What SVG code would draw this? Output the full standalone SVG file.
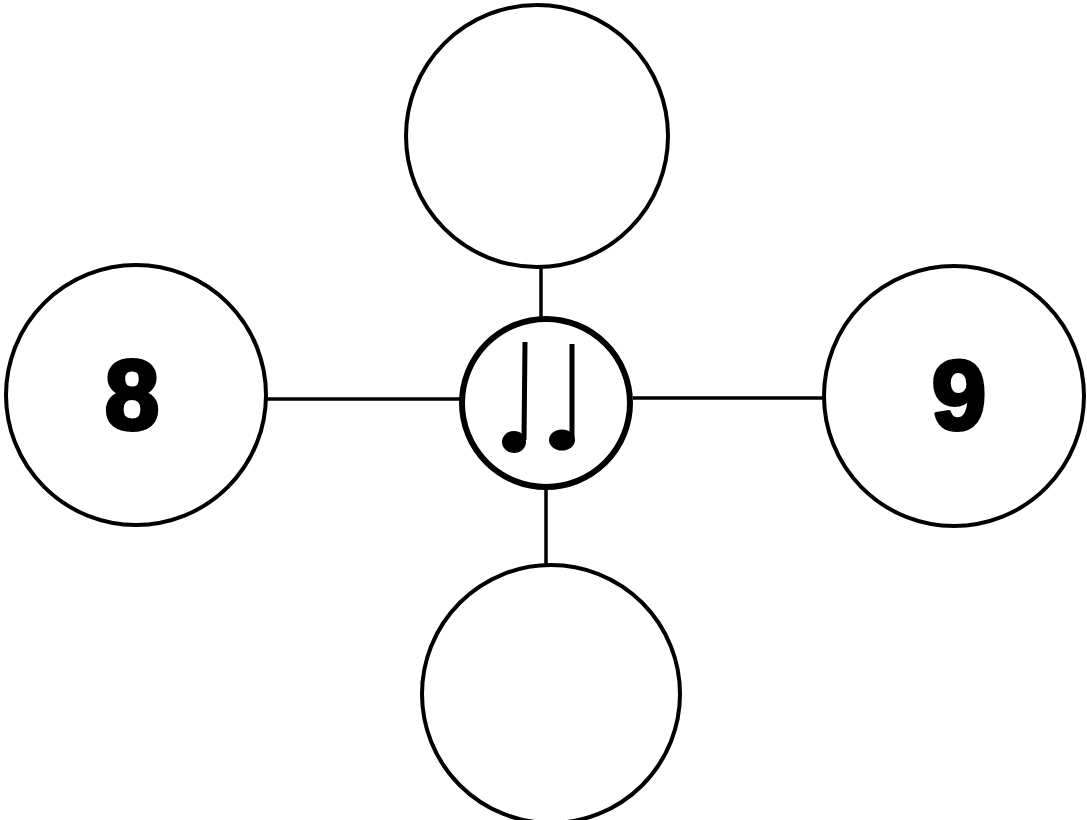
<svg xmlns="http://www.w3.org/2000/svg" width="1087" height="820" viewBox="0 0 1087 820">
<style>
.c{fill:#fff;stroke:#000;stroke-width:4}
.ln{stroke:#000;stroke-width:3.5;fill:none}
.t{font-family:"Liberation Sans",Arial,sans-serif;font-weight:bold;font-size:98px;fill:#000;stroke:#000;stroke-width:4;stroke-linejoin:round;text-anchor:middle}
</style>
<rect width="1087" height="820" fill="#fff"/>
<g id="connectors">
<line class="ln" x1="266" y1="399" x2="460" y2="399"/>
<line class="ln" x1="633" y1="398" x2="824" y2="398"/>
<line class="ln" x1="541" y1="266" x2="541" y2="322"/>
<line class="ln" x1="546" y1="485" x2="546" y2="567"/>
</g>
<g id="node-top"><circle class="c" cx="537" cy="136" r="131"/></g>
<g id="node-left"><circle class="c" cx="136" cy="395" r="130"/><text class="t" x="132" y="429">8</text></g>
<g id="node-right"><circle class="c" cx="954" cy="396" r="130"/><text class="t" x="959" y="429">9</text></g>
<g id="node-bottom"><circle class="c" cx="551" cy="694" r="129"/></g>
<g id="node-center">
<circle cx="546" cy="403" r="84" fill="#fff" stroke="#000" stroke-width="6"/>
<line x1="525" y1="342" x2="524" y2="440" stroke="#000" stroke-width="5"/>
<line x1="572" y1="344" x2="572" y2="438" stroke="#000" stroke-width="5"/>
<ellipse cx="514" cy="442" rx="12" ry="11" fill="#000"/>
<ellipse cx="562" cy="440" rx="13" ry="10.5" fill="#000"/>
</g>
</svg>
